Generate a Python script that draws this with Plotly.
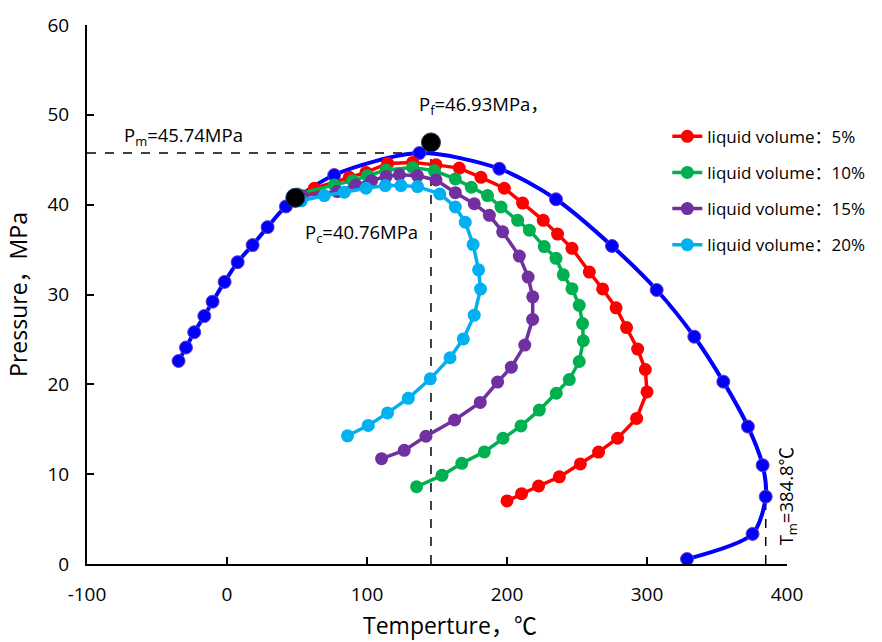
import plotly.graph_objects as go

# Phase envelope of the reservoir fluid (dew/bubble point line)
env_T = [-34.6, -29.3, -23.4, -16.2, -10.3, -1.7, 7.6, 18.3, 29.0, 42.1, 76.6, 137.4,
         194.5, 235.0, 275.0, 306.9, 333.8, 354.5, 372.1, 382.6, 384.8, 375.4, 328.6]
env_P = [22.6, 24.1, 25.8, 27.6, 29.2, 31.4, 33.6, 35.5, 37.5, 39.8, 43.3, 45.74,
         44.0, 40.6, 35.4, 30.5, 25.3, 20.3, 15.3, 11.0, 7.5, 3.35, 0.55]

# Iso-volume (quality) lines
lv5_T = [50.2, 62.4, 87.4, 99.3, 114.7, 132.6, 149.3, 165.9, 181.4, 198.1, 211.1, 225.9,
         236.1, 246.4, 258.8, 268.3, 277.9, 285.4, 293.3, 298.8, 300.0, 292.6, 279.0,
         265.4, 252.4, 237.4, 222.6, 210.4, 200.0]
lv5_P = [40.54, 41.83, 43.04, 43.59, 44.59, 44.70, 44.43, 44.07, 43.04, 41.83, 40.18, 38.26,
         36.73, 35.14, 32.50, 30.62, 28.52, 26.32, 23.93, 21.65, 19.15, 16.21, 14.00,
         12.46, 11.14, 9.70, 8.68, 7.83, 7.02]

lv10_T = [50.4, 76.6, 89.7, 100.4, 113.6, 132.6, 148.1, 163.1, 174.5, 186.1, 195.7, 207.6,
          216.0, 226.6, 235.0, 240.2, 246.4, 251.6, 254.0, 254.5, 251.6, 244.5, 235.2,
          223.1, 210.0, 197.1, 183.8, 167.7, 153.6, 135.4]
lv10_P = [41.20, 42.19, 42.67, 43.22, 43.85, 44.15, 43.77, 42.86, 41.94, 41.01, 39.74, 38.26,
          37.16, 35.33, 34.03, 32.19, 30.65, 28.80, 26.76, 24.85, 22.54, 20.53, 19.01,
          17.13, 15.37, 14.00, 12.48, 11.21, 9.87, 8.60]

lv15_T = [53.8, 78.8, 92.1, 103.3, 113.6, 123.1, 136.1, 149.3, 163.1, 176.6, 187.4, 196.9,
          208.8, 215.1, 218.4, 218.3, 212.7, 203.1, 193.3, 180.9, 162.6, 142.1, 126.6, 110.4]
lv15_P = [40.98, 41.46, 42.19, 42.67, 43.13, 43.33, 43.22, 42.75, 41.33, 40.10, 38.81, 36.98,
          34.28, 31.94, 29.74, 27.23, 24.37, 21.91, 20.25, 17.99, 16.03, 14.22, 12.65, 11.73]

lv20_T = [53.1, 69.5, 83.8, 99.3, 113.1, 124.3, 136.1, 152.0, 163.1, 170.2, 175.8, 179.7,
          181.1, 176.6, 168.8, 159.3, 145.2, 129.5, 114.7, 100.9, 86.1]
lv20_P = [40.43, 41.01, 41.39, 41.83, 42.12, 42.12, 42.01, 41.20, 39.74, 38.04, 35.56, 32.75,
          30.60, 27.70, 25.06, 22.96, 20.61, 18.44, 16.82, 15.43, 14.27]

series_names = ["liquid volume：5%", "liquid volume：10%",
                "liquid volume：15%", "liquid volume：20%"]
series_colors = ["#FF0000", "#00B050", "#7030A0", "#00B0F0"]

x_ticks = [-100, 0, 100, 200, 300, 400]
x_ticktext = ["-100", "0", "100", "200", "300", "400"]
y_ticks = [0, 10, 20, 30, 40, 50, 60]

# Characteristic points
Pm = 45.74                # cricondenbar
Tm = 384.8                # cricondentherm
Pc_T, Pc = 48.8, 40.76    # critical point
Pf_T, Pf = 145.7, 46.93   # formation pressure

FONT = "Open Sans, Noto Sans CJK SC, sans-serif"

fig = go.Figure()

# Guide lines
dash_line = dict(color="black", width=1.5, dash="dash")
fig.add_trace(go.Scatter(x=[-100, 134], y=[Pm, Pm], mode="lines", line=dash_line,
                         showlegend=False, hoverinfo="skip"))
fig.add_trace(go.Scatter(x=[Pf_T, Pf_T], y=[0, Pf], mode="lines", line=dash_line,
                         showlegend=False, hoverinfo="skip"))
fig.add_trace(go.Scatter(x=[Tm, Tm], y=[0, 7.5], mode="lines", line=dash_line,
                         showlegend=False, hoverinfo="skip"))

# Phase envelope
fig.add_trace(go.Scatter(x=env_T, y=env_P, mode="lines+markers",
                         line=dict(color="#0000FF", width=4, shape="spline", smoothing=0.8),
                         marker=dict(size=13, color="#0000FF",
                                     line=dict(color="#6a3cc0", width=1)),
                         showlegend=False))

for i, (xs, ys) in enumerate([(lv5_T, lv5_P), (lv10_T, lv10_P),
                              (lv15_T, lv15_P), (lv20_T, lv20_P)]):
    fig.add_trace(go.Scatter(x=xs, y=ys, mode="lines+markers",
                             name=series_names[i], legendgroup=f"g{i}",
                             line=dict(color=series_colors[i], width=3.5),
                             marker=dict(size=13, color=series_colors[i])))

# Critical point and formation pressure
fig.add_trace(go.Scatter(x=[Pc_T, Pf_T], y=[Pc, Pf], mode="markers",
                         marker=dict(size=19, color="black",
                                     line=dict(color="#1f3864", width=1)),
                         showlegend=False))

ann_font = dict(family=FONT, size=18.5, color="black")
fig.add_annotation(x=-75, y=47.7, xref="x", yref="y", xanchor="left", yanchor="middle",
                   text="P<sub>m</sub>=45.74MPa", showarrow=False, font=ann_font)
fig.add_annotation(x=136, y=51.1, xref="x", yref="y", xanchor="left", yanchor="middle",
                   text="P<sub>f</sub>=46.93MPa，", showarrow=False, font=ann_font)
fig.add_annotation(x=54.5, y=36.9, xref="x", yref="y", xanchor="left", yanchor="middle",
                   text="P<sub>c</sub>=40.76MPa", showarrow=False, font=ann_font)
fig.add_annotation(x=1.0004, y=0.126, xref="paper", yref="paper", xanchor="center",
                   yanchor="middle", text="T<sub>m</sub>=384.8℃", textangle=-90,
                   showarrow=False, font=ann_font)

# X axis title, set slightly right of the plot centre
fig.add_annotation(x=0.519, y=-0.1126, xref="paper", yref="paper", xanchor="center",
                   yanchor="middle", text="Temperture，℃", showarrow=False,
                   font=dict(family=FONT, size=23, color="black"))

axis_common = dict(showline=True, linecolor="black", linewidth=2, ticks="inside",
                   ticklen=7, tickwidth=1.5, tickcolor="black", showgrid=False,
                   zeroline=False, tickfont=dict(family=FONT, size=19, color="black"))

fig.update_layout(
    width=882, height=642,
    margin=dict(l=87, r=94, t=19, b=78),
    paper_bgcolor="white", plot_bgcolor="white",
    xaxis=dict(range=[-100, 400], tickvals=x_ticks, ticktext=x_ticktext,
               ticklabelstandoff=12, **axis_common),
    yaxis=dict(range=[0, 60], tickvals=y_ticks, ticklabelstandoff=12,
               title=dict(text="Pressure，MPa", standoff=13,
                          font=dict(family=FONT, size=23, color="black")),
               **axis_common),
    legend=dict(x=0.829, y=0.826, xanchor="left", yanchor="top",
                font=dict(family=FONT, size=17, color="black"),
                tracegroupgap=11, bgcolor="rgba(0,0,0,0)", itemwidth=30),
    showlegend=True,
)

fig.write_html("out.html")
